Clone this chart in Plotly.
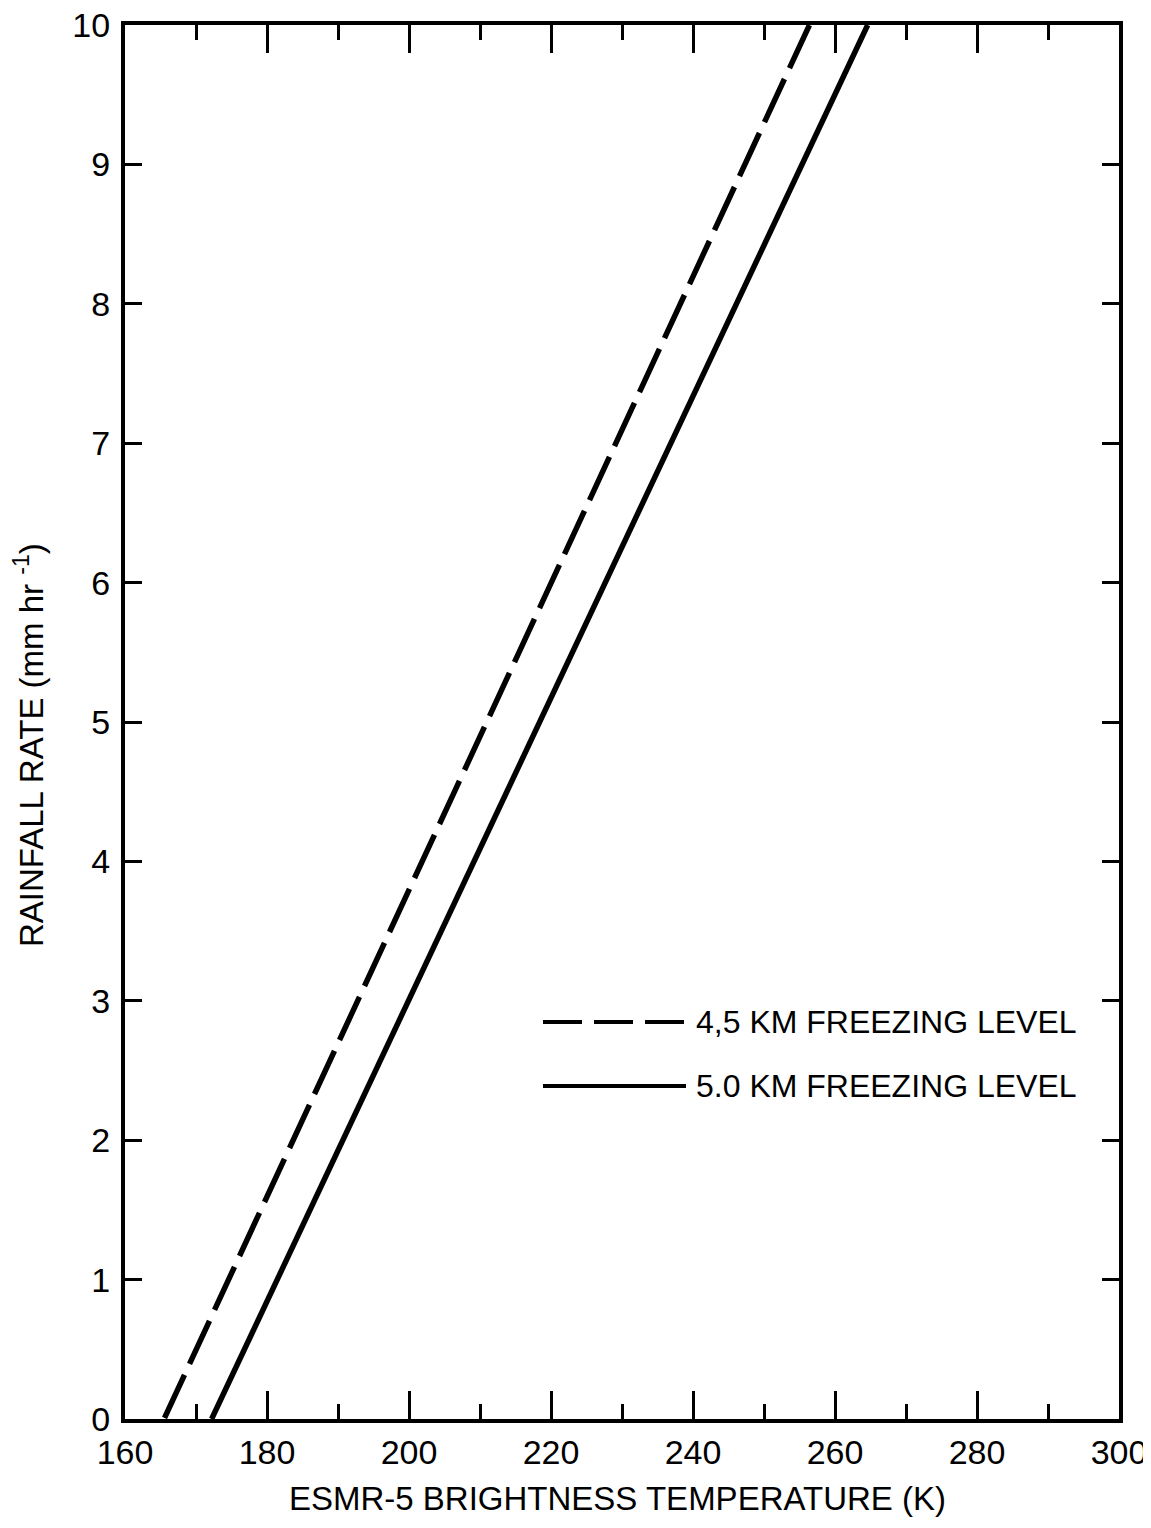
import plotly.graph_objects as go

# Data
rain_rate = [0, 10]
tb_45km = [165.5, 256.4]   # 4.5 KM freezing level (dashed)
tb_50km = [172.2, 264.6]   # 5.0 KM freezing level (solid)
legend_labels = ["4,5 KM FREEZING LEVEL", "5.0 KM FREEZING LEVEL"]
x_ticks = [160, 180, 200, 220, 240, 260, 280, 300]
y_ticks = list(range(0, 11))

FONT = "Liberation Sans, Arial, Helvetica, sans-serif"

# page body has an 8px margin; figure coords = page coords - 8
OFF = 8
W, H = 1143, 1512
L, T = 125 - OFF, 25 - OFF
Rr = W - (1119 - OFF)
Bb = H - (1419 - OFF)
pw, ph = W - L - Rr, H - T - Bb


def px_x(page_x):
    return (page_x - OFF - L) / pw


def px_y(page_y):
    return (T + ph - (page_y - OFF)) / ph


fig = go.Figure()
fig.add_trace(go.Scatter(x=tb_45km[::-1], y=rain_rate[::-1], mode="lines",
                         line=dict(color="black", width=5.5, dash="47.5px,12px"),
                         showlegend=False))
fig.add_trace(go.Scatter(x=tb_50km, y=rain_rate, mode="lines",
                         line=dict(color="black", width=5.5),
                         showlegend=False))

fig.update_layout(
    width=W, height=H,
    margin=dict(l=L, r=Rr, t=T, b=Bb, pad=0, autoexpand=False),
    paper_bgcolor="white", plot_bgcolor="white",
    font=dict(family=FONT, color="black", size=33),
    showlegend=False,
)
fig.update_xaxes(
    range=[160, 300], tickvals=x_ticks, ticktext=[str(v) for v in x_ticks],
    ticks="inside", ticklen=28, tickwidth=3, tickcolor="black",
    minor=dict(dtick=10, tick0=160, ticks="inside", ticklen=15, tickwidth=3, tickcolor="black"),
    showline=True, linewidth=4, linecolor="black", mirror="ticks",
    showgrid=False, zeroline=False, ticklabelstandoff=0, ticklabeloverflow="allow",
    automargin=False,
    tickfont=dict(size=34, family=FONT, color="black"),
)
fig.update_yaxes(
    range=[0, 10], tickvals=y_ticks, ticktext=[str(v) for v in y_ticks],
    ticks="inside", ticklen=17, tickwidth=3, tickcolor="black",
    showline=True, linewidth=4, linecolor="black", mirror="ticks",
    showgrid=False, zeroline=False, ticklabelstandoff=4, ticklabeloverflow="allow",
    automargin=False,
    tickfont=dict(size=34, family=FONT, color="black"),
)

# Axis titles
fig.add_annotation(text="ESMR-5 BRIGHTNESS TEMPERATURE (K)", xref="paper", yref="paper",
                   x=px_x(617), y=px_y(1519), xanchor="center", yanchor="bottom",
                   showarrow=False, font=dict(size=33, family=FONT, color="black"))
fig.add_annotation(text="RAINFALL RATE (mm hr <sup>-1</sup>)", xref="paper", yref="paper",
                   x=px_x(29), y=px_y(745), xanchor="center", yanchor="middle",
                   textangle=-90, showarrow=False, font=dict(size=33, family=FONT, color="black"))

# Legend (drawn manually to match the long sample lines)
rows_y = [1022, 1086]
dashes = ["39px,12px", "solid"]
for lab, yp, d in zip(legend_labels, rows_y, dashes):
    py = px_y(yp)
    fig.add_shape(type="line", xref="paper", yref="paper",
                  x0=px_x(543), x1=px_x(686), y0=py, y1=py,
                  line=dict(color="black", width=4, dash=d))
    fig.add_annotation(text=lab, xref="paper", yref="paper",
                       x=px_x(694), y=py, xanchor="left", yanchor="middle",
                       showarrow=False, font=dict(size=32, family=FONT, color="black"))

fig.write_html("out.html")
